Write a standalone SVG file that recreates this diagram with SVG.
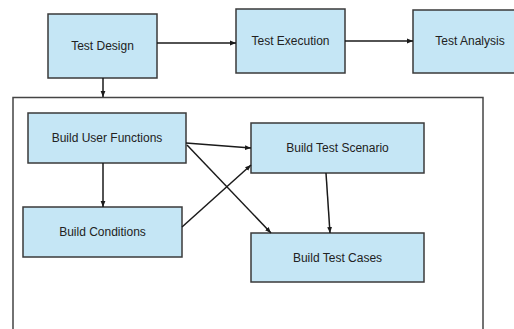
<svg xmlns="http://www.w3.org/2000/svg" width="514" height="329" viewBox="0 0 514 329">
<defs>
<style>
.box{fill:#c5e6f5;stroke:#3a3a3a;stroke-width:1.5}
.lbl{font-family:"Liberation Sans",Arial,sans-serif;font-size:12px;fill:#222;text-anchor:middle;dominant-baseline:central}
.con{stroke:#1a1a1a;stroke-width:1.5;fill:none;marker-end:url(#ah)}
</style>
<marker id="ah" viewBox="0 0 10 10" refX="10" refY="5" markerWidth="6" markerHeight="6" orient="auto" markerUnits="userSpaceOnUse">
<path d="M0,1 L10,5 L0,9 z" fill="#1a1a1a"/>
</marker>
</defs>
<rect width="514" height="329" fill="#fff"/>
<rect id="container" x="13" y="97.5" width="470" height="240" fill="none" stroke="#444" stroke-width="1.5"/>
<g id="test-design"><rect class="box" x="48" y="14" width="109" height="64"/><text class="lbl" x="102.5" y="46">Test Design</text></g>
<g id="test-execution"><rect class="box" x="236" y="9" width="109" height="64"/><text class="lbl" x="290.5" y="41">Test Execution</text></g>
<g id="test-analysis"><rect class="box" x="413" y="10" width="110" height="63"/><text class="lbl" x="470" y="41">Test Analysis</text></g>
<g id="build-user-functions"><rect class="box" x="28" y="113" width="158" height="50"/><text class="lbl" x="107" y="138">Build User Functions</text></g>
<g id="build-test-scenario"><rect class="box" x="251" y="123" width="173" height="50"/><text class="lbl" x="337.5" y="148">Build Test Scenario</text></g>
<g id="build-conditions"><rect class="box" x="23" y="207" width="159" height="50"/><text class="lbl" x="102.5" y="232">Build Conditions</text></g>
<g id="build-test-cases"><rect class="box" x="251" y="233" width="173" height="49"/><text class="lbl" x="337.5" y="257.5">Build Test Cases</text></g>
<g id="connectors">
<line class="con" x1="157" y1="43" x2="236" y2="43" stroke-width="2.2"/>
<line class="con" x1="345" y1="41" x2="413" y2="41"/>
<line class="con" x1="103" y1="78" x2="103" y2="97"/>
<line class="con" x1="103" y1="163" x2="103" y2="207"/>
<line class="con" x1="186" y1="143" x2="251" y2="148"/>
<line class="con" x1="187" y1="145" x2="271" y2="233"/>
<line class="con" x1="182" y1="227" x2="251" y2="165"/>
<line class="con" x1="326" y1="173" x2="330" y2="233" stroke-width="2"/>
</g>
</svg>
